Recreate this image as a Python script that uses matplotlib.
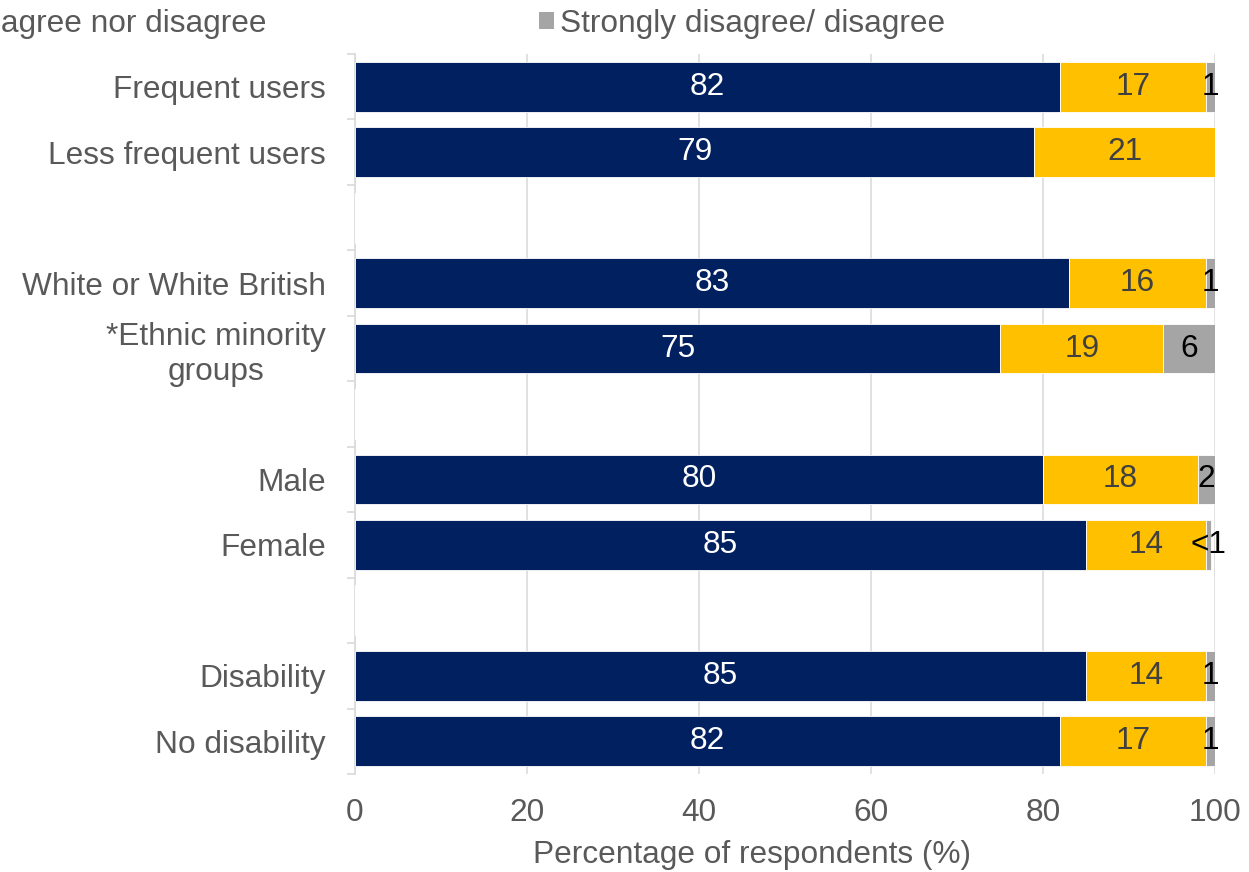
import numpy as np
import matplotlib.pyplot as plt
from matplotlib.patches import Patch

plt.rcParams['font.family'] = ['Liberation Sans', 'DejaVu Sans']

# rows top to bottom, '' rows are spacers between the groups
categories = ['Frequent users', 'Less frequent users', '',
              'White or White British', '*Ethnic minority\ngroups', '',
              'Male', 'Female', '',
              'Disability', 'No disability']
agree = [82, 79, np.nan, 83, 75, np.nan, 80, 85, np.nan, 85, 82]
neither = [17, 21, np.nan, 16, 19, np.nan, 18, 14, np.nan, 14, 17]
disagree = [1, 0, np.nan, 1, 6, np.nan, 2, 0.5, np.nan, 1, 1]
disagree_text = ['1', '', '', '1', '6', '', '2', '<1', '', '1', '1']

series_names = ['Strongly agree/ agree', 'Neither agree nor disagree',
                'Strongly disagree/ disagree']
colors = ['#002060', '#FFC000', '#A5A5A5']
text_colors = ['white', '#404040', 'black']
xticks = [0, 20, 40, 60, 80, 100]

FS = 22.8
fig = plt.figure(figsize=(12.49, 8.72), dpi=100)
ax = fig.add_axes([355/1249, 1 - 774/872, 860/1249, 720/872])

y = np.arange(len(categories))
left = np.zeros(len(categories))
for vals, col, tcol, name in zip([agree, neither, disagree], colors, text_colors, series_names):
    vals = np.array(vals, dtype=float)
    ax.barh(y, np.nan_to_num(vals), left=left, height=0.76, color=col,
            edgecolor='white', linewidth=0.6, label=name, zorder=3)
    for i, v in enumerate(vals):
        if np.isnan(v) or v == 0:
            continue
        if col == colors[2]:
            txt = disagree_text[i]
        else:
            txt = '%d' % v
        ax.text(left[i] + v / 2, i, txt, ha='center', va='center',
                color=tcol, fontsize=FS, zorder=4)
    left = left + np.nan_to_num(vals)

ax.set_xlim(0, 100)
ax.set_ylim(len(categories) - 0.5, -0.5)
ax.set_yticks(y)
ax.set_yticklabels(categories, fontsize=FS, color='#595959', multialignment='center')
ax.set_yticks(np.arange(-0.5, len(categories)), minor=True)
ax.tick_params(axis='y', which='major', length=0, pad=21)
ax.tick_params(axis='y', which='minor', length=6, color='#d9d9d9', width=1.2)
ax.set_xticks(xticks)
ax.set_xticklabels([str(t) for t in xticks], fontsize=FS, color='#595959')
ax.tick_params(axis='x', length=0, pad=17.5)
ax.set_xlabel('Percentage of respondents (%)', fontsize=FS, color='#595959')
# label sits a little left of the axes centre
ax.xaxis.set_label_coords((752 - 355) / 860, -0.092)

ax.grid(axis='x', color='#d9d9d9', linewidth=1.1, zorder=0)
for s in ['top', 'right', 'bottom']:
    ax.spines[s].set_visible(False)
ax.spines['left'].set_color('#d9d9d9')
ax.spines['left'].set_linewidth(1.2)

handles = [Patch(facecolor=c) for c in colors]
fig.legend(handles, series_names, loc='upper right', ncol=3,
           bbox_to_anchor=(945/1249, 1 - 9/872), frameon=False,
           fontsize=FS, labelcolor='#595959', borderpad=0, borderaxespad=0,
           handlelength=0.47, handleheight=0.47, handletextpad=0.2,
           columnspacing=8.6)

fig.savefig('out.png', dpi=100)
